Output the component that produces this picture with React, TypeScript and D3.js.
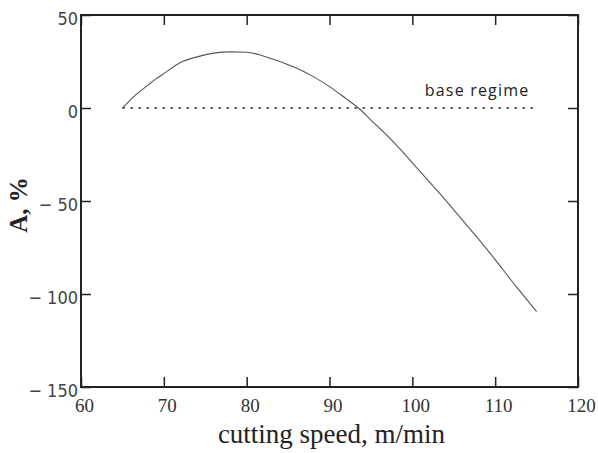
import React, { useEffect, useRef } from 'react';
import * as d3 from 'd3';

// cutting speed (m/min) and relative change A (%)
const speeds = [65, 66, 67, 68, 69, 70, 72, 74, 76, 78, 80, 82, 84, 86, 88, 90, 92, 93.5, 95, 97, 98.5, 100, 102, 104, 106, 108, 110, 112, 113, 115];
const aValues = [0, 4.5, 8.5, 12, 15.5, 18.5, 24.5, 27.5, 29.5, 30.2, 30, 28, 25, 21.5, 17, 11.5, 5, 0, -6.5, -15, -22, -29.5, -39.5, -49.5, -60, -70.5, -81.5, -93, -98.5, -109.5];

const baseRange = [65, 115];
const baseValue = 0;

const xTicks = [60, 70, 80, 90, 100, 110, 120];
const yTicks = [-150, -100, -50, 0, 50];

const App: React.FC = () => {
  const svgRef = useRef<SVGSVGElement>(null);
  const width = 598;
  const height = 453;

  useEffect(() => {
    if (!svgRef.current) return;
    const svg = d3.select(svgRef.current);
    svg.selectAll('*').remove();

    const margin = { top: 15, right: 20, bottom: 66, left: 81 };
    const innerW = width - margin.left - margin.right;
    const innerH = height - margin.top - margin.bottom;

    const x = d3.scaleLinear().domain([60, 120]).range([0, innerW]);
    const y = d3.scaleLinear().domain([-150, 50]).range([innerH, 0]);

    const g = svg.append('g')
      .attr('transform', `translate(${margin.left},${margin.top})`);

    const fmtY = (v: number) => (v < 0 ? `\u2212 ${-v}` : `${v}`);

    // bottom axis (ticks inward)
    const xAxis = g.append('g')
      .attr('transform', `translate(0,${innerH})`)
      .call(d3.axisBottom(x).tickValues(xTicks).tickSize(-10).tickPadding(12).tickFormat(d => `${d}`))
      .attr('font-family', 'Liberation Serif, serif');
    xAxis.selectAll('text')
      .attr('dx', 3)
      .style('font-family', 'Liberation Serif, serif')
      .style('font-size', '19px')
      .style('fill', '#333');

    // left axis
    const yAxis = g.append('g')
      .call(d3.axisLeft(y).tickValues(yTicks).tickSize(-10).tickPadding(3).tickFormat(d => fmtY(+d)));
    yAxis.selectAll('text')
      .attr('dy', '0.5em')
      .style('font-family', '"DejaVu Sans Condensed", "Liberation Sans", sans-serif')
      .style('font-stretch', 'condensed')
      .style('font-size', '18px')
      .style('fill', '#444');

    // top and right axes, no labels
    g.append('g')
      .call(d3.axisTop(x).tickValues(xTicks).tickSize(-10).tickFormat(() => ''));
    g.append('g')
      .attr('transform', `translate(${innerW},0)`)
      .call(d3.axisRight(y).tickValues(yTicks).tickSize(-10).tickFormat(() => ''));

    g.selectAll('.domain').remove();
    g.selectAll('.tick line')
      .attr('stroke', '#222')
      .attr('stroke-width', 1.5);

    // frame
    g.append('rect')
      .attr('x', 0)
      .attr('y', 0)
      .attr('width', innerW)
      .attr('height', innerH)
      .attr('fill', 'none')
      .attr('stroke', '#222')
      .attr('stroke-width', 2);

    // base regime dotted line
    g.append('line')
      .attr('x1', x(baseRange[0]))
      .attr('x2', x(baseRange[1]))
      .attr('y1', y(baseValue))
      .attr('y2', y(baseValue))
      .attr('stroke', '#333')
      .attr('stroke-width', 1.5)
      .attr('stroke-dasharray', '2.5,5.5');

    g.append('text')
      .attr('x', x(101.5))
      .attr('y', y(baseValue) - 12)
      .style('font-family', '"Open Sans", "Liberation Sans", sans-serif')
      .style('font-size', '16px')
      .style('letter-spacing', '1.2px')
      .style('fill', '#222')
      .text('base regime');

    // curve
    const line = d3.line<number>()
      .x((_, i) => x(speeds[i]))
      .y(d => y(d))
      .curve(d3.curveMonotoneX);

    g.append('path')
      .datum(aValues)
      .attr('d', line)
      .attr('fill', 'none')
      .attr('stroke', '#555')
      .attr('stroke-width', 1.1);

    // axis titles
    svg.append('text')
      .attr('x', margin.left + innerW / 2 + 2)
      .attr('y', 443)
      .attr('text-anchor', 'middle')
      .style('font-family', '"Liberation Serif", "Times New Roman", serif')
      .style('font-size', '27px')
      .style('fill', '#222')
      .text('cutting speed, m/min');

    svg.append('text')
      .attr('transform', `translate(27,205) rotate(-90)`)
      .attr('text-anchor', 'middle')
      .style('font-family', '"Liberation Serif", "Times New Roman", serif')
      .style('font-size', '25px')
      .style('font-weight', 'bold')
      .style('fill', '#222')
      .text('A, %');
  }, []);

  return (
    <svg
      ref={svgRef}
      width={width}
      height={height}
      style={{ position: 'absolute', left: 0, top: 0, background: 'white' }}
    />
  );
};

export default App;
